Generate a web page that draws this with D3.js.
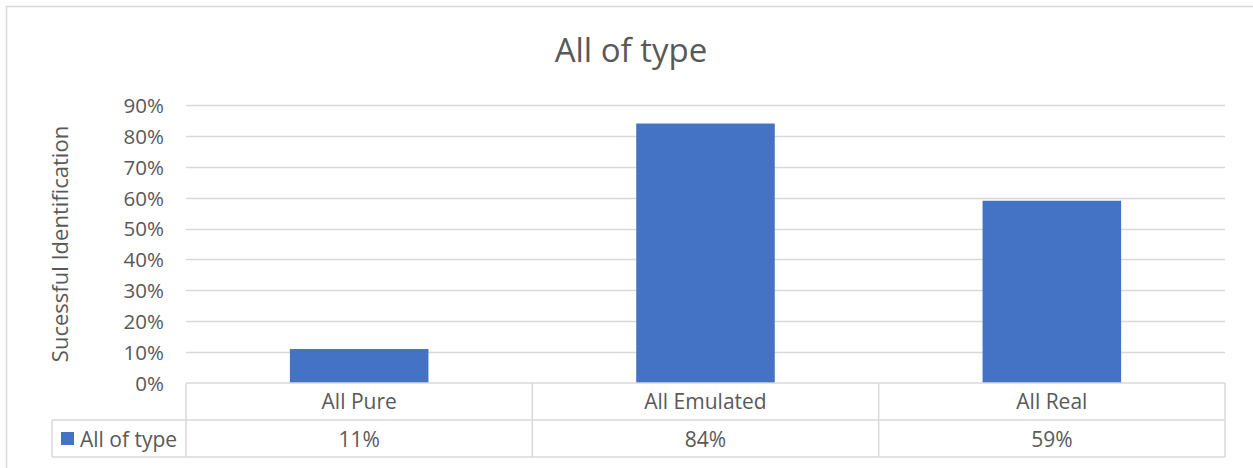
<!DOCTYPE html>
<html>
<head>
<meta charset="utf-8">
<script src="https://cdn.jsdelivr.net/npm/d3@7"></script>
<style>
  body { margin: 0; background: #fff; }
  svg text { font-family: 'Open Sans', 'Noto Sans', sans-serif; fill: #595959; }
</style>
</head>
<body>
<div id="chart"></div>
<script>
// data
const categories = ['All Pure', 'All Emulated', 'All Real'];
const seriesName = 'All of type';
const seriesValues = [0.11, 0.84, 0.59];
const yTicks = [0, 0.1, 0.2, 0.3, 0.4, 0.5, 0.6, 0.7, 0.8, 0.9];

const W = 1253;
const H = 468;
const plot = { left: 186, right: 1225, top: 105, bottom: 383 };
const rowH = 37;
const legendLeft = 52;
const grey = '#d9d9d9';
const blue = '#4472c4';

const svg = d3.select('#chart')
  .append('svg')
  .attr('width', W)
  .attr('height', H);

// outer chart border
svg.append('rect')
  .attr('x', 6.5)
  .attr('y', 6.5)
  .attr('width', W)
  .attr('height', H)
  .style('fill', 'none')
  .style('stroke', grey)
  .style('stroke-width', 1.5);

// title
svg.append('text')
  .text('All of type')
  .attr('x', 631)
  .attr('y', 62)
  .attr('text-anchor', 'middle')
  .style('font-size', '33px');

const x = d3.scaleBand()
  .domain(categories)
  .range([plot.left, plot.right])
  .paddingInner(0.6)
  .paddingOuter(0.3);

const xCell = d3.scaleBand()
  .domain(categories)
  .range([plot.left, plot.right]);

const y = d3.scaleLinear()
  .domain([0, 0.9])
  .range([plot.bottom, plot.top]);

// gridlines
svg.append('g')
  .selectAll('line')
  .data(yTicks.slice(1))
  .join('line')
  .attr('x1', plot.left)
  .attr('x2', plot.right)
  .attr('y1', d => Math.round(y(d)) + 0.5)
  .attr('y2', d => Math.round(y(d)) + 0.5)
  .style('stroke', grey)
  .style('stroke-width', 1.5);

// y axis labels
const yAxis = svg.append('g')
  .attr('transform', 'translate(' + (plot.left - 22) + ',0)')
  .call(d3.axisLeft(y).tickValues(yTicks).tickFormat(d3.format('.0%')).tickSize(0).tickPadding(0));
yAxis.select('.domain').remove();
yAxis.selectAll('text')
  .style('font-size', '20.5px')
  .style('fill', '#595959')
  .style('font-family', "'Open Sans', 'Noto Sans', sans-serif")
  .attr('dy', '0.36em');

// y axis title
svg.append('text')
  .text('Sucessful Identification')
  .attr('transform', 'translate(68,' + (plot.top + plot.bottom) / 2 + ') rotate(-90)')
  .attr('text-anchor', 'middle')
  .style('font-size', '22px');

// bars
svg.append('g')
  .selectAll('rect')
  .data(seriesValues)
  .join('rect')
  .attr('x', (d, i) => x(categories[i]))
  .attr('width', x.bandwidth())
  .attr('y', d => y(d))
  .attr('height', d => y(0) - y(d))
  .style('fill', blue);

// data table
const table = svg.append('g')
  .style('stroke', grey)
  .style('stroke-width', 1.5)
  .style('fill', 'none');

const r1 = plot.bottom;
const r2 = plot.bottom + rowH;
const r3 = plot.bottom + rowH * 2;

table.append('line').attr('x1', plot.left).attr('x2', plot.right).attr('y1', r1).attr('y2', r1);
table.append('line').attr('x1', legendLeft).attr('x2', plot.right).attr('y1', r2).attr('y2', r2);
table.append('line').attr('x1', legendLeft).attr('x2', plot.right).attr('y1', r3).attr('y2', r3);
table.append('line').attr('x1', legendLeft).attr('x2', legendLeft).attr('y1', r2).attr('y2', r3);

const cellEdges = categories.map(c => xCell(c)).concat([plot.right]);
table.selectAll('.vcell')
  .data(cellEdges)
  .join('line')
  .attr('class', 'vcell')
  .attr('x1', d => d)
  .attr('x2', d => d)
  .attr('y1', r1)
  .attr('y2', r3);

// category labels
svg.append('g')
  .selectAll('text')
  .data(categories)
  .join('text')
  .text(d => d)
  .attr('x', d => xCell(d) + xCell.bandwidth() / 2)
  .attr('y', r1 + 26)
  .attr('text-anchor', 'middle')
  .style('font-size', '21px');

// value labels
svg.append('g')
  .selectAll('text')
  .data(seriesValues)
  .join('text')
  .text(d => d3.format('.0%')(d))
  .attr('x', (d, i) => xCell(categories[i]) + xCell.bandwidth() / 2)
  .attr('y', r2 + 27)
  .attr('text-anchor', 'middle')
  .style('font-size', '21px');

// legend key
svg.append('rect')
  .attr('x', 61)
  .attr('y', r2 + 12)
  .attr('width', 13)
  .attr('height', 13)
  .style('fill', blue);

svg.append('text')
  .text(seriesName)
  .attr('x', 80)
  .attr('y', r2 + 27)
  .style('font-size', '21px');
</script>
</body>
</html>
